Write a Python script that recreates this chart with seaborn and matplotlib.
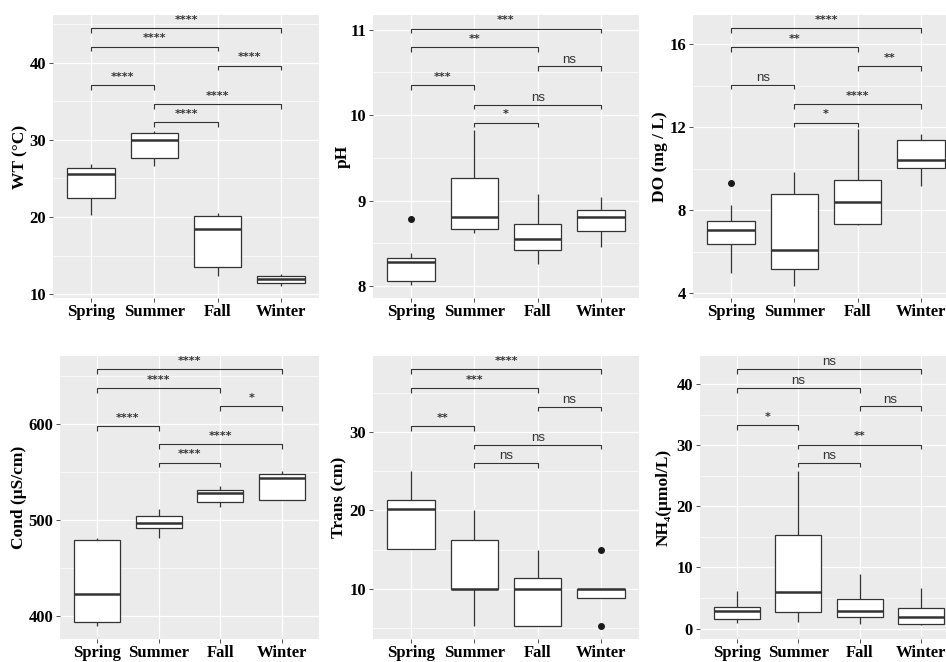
import matplotlib
matplotlib.use("Agg")
import matplotlib.pyplot as plt
from matplotlib.ticker import MultipleLocator
import seaborn as sns
import pandas as pd

seasons = ["Spring", "Summer", "Fall", "Winter"]

# per-season samples (whisker ends, quartiles, median, outliers)
wt_values = [[20.2, 22.5, 25.6, 26.4, 26.9],
             [26.6, 27.6, 30.0, 30.9, 31.2],
             [12.4, 13.5, 18.4, 20.1, 20.5],
             [11.1, 11.4, 11.9, 12.3, 12.6]]
ph_values = [[8.01, 8.04, 8.062, 8.2, 8.277, 8.3, 8.323, 8.39, 8.78],
             [8.62, 8.666, 8.81, 9.258, 9.823],
             [8.257, 8.42, 8.545, 8.72, 9.075],
             [8.46, 8.647, 8.81, 8.892, 9.044]]
do_values = [[4.97, 6.0, 6.35, 6.8, 7.06, 7.3, 7.48, 8.24, 9.3],
             [4.34, 5.16, 6.06, 8.8, 9.82],
             [7.3, 7.32, 8.41, 9.44, 11.9],
             [9.15, 10.01, 10.41, 11.38, 11.67]]
cond_values = [[389.6, 393.7, 423.3, 479.0, 481.0],
               [481.7, 492.2, 497.4, 503.7, 512.0],
               [513.7, 518.6, 527.7, 531.5, 535.7],
               [521.4, 521.4, 543.7, 548.5, 551.3]]
trans_values = [[15.02, 15.02, 20.13, 21.28, 25.0],
                [5.23, 10.0, 10.0, 16.26, 20.0],
                [5.2, 5.2, 10.0, 11.36, 15.0],
                [5.2, 8.77, 8.77, 9.5, 10.0, 10.0, 10.0, 10.0, 15.0]]
nh4_values = [[0.98, 1.53, 2.89, 3.6, 6.17],
              [1.15, 2.78, 6.06, 15.28, 25.8],
              [0.71, 1.91, 2.89, 4.8, 8.9],
              [0.6, 0.71, 1.91, 3.44, 6.71]]

# comparison brackets: season index pairs, bracket heights, significance labels
pairs = [(0, 1), (1, 2), (1, 3), (0, 2), (2, 3), (0, 3)]
wt_brackets = [37.1, 32.3, 34.6, 42.1, 39.65, 44.5]
wt_labels = ["****", "****", "****", "****", "****", "****"]
ph_brackets = [10.35, 9.91, 10.12, 10.79, 10.57, 11.01]
ph_labels = ["***", "*", "ns", "**", "ns", "***"]
do_brackets = [14.04, 12.22, 13.10, 15.86, 14.95, 16.76]
do_labels = ["ns", "*", "****", "**", "**", "****"]
cond_brackets = [597.9, 559.7, 578.8, 637.6, 618.4, 657.4]
cond_labels = ["****", "****", "****", "****", "*", "****"]
trans_brackets = [30.77, 26.04, 28.38, 35.57, 33.23, 38.0]
trans_labels = ["**", "ns", "ns", "***", "ns", "****"]
nh4_brackets = [33.23, 27.12, 30.12, 39.35, 36.34, 42.46]
nh4_labels = ["*", "ns", "**", "ns", "ns", "ns"]

sns.set_style("darkgrid", {"axes.facecolor": "#EBEBEB", "grid.color": "white"})
plt.rcParams["font.family"] = ["Liberation Serif", "DejaVu Serif"]

edge = "#333333"
fig = plt.figure(figsize=(9.46, 6.62), dpi=100)

W, H = 946, 662
panels = [
    # values, brackets, labels, ylabel, ylim, major, minor, [left, top, width] px, label x
    (wt_values, wt_brackets, wt_labels, "WT (°C)", (9.5, 46.2), 10, 5, (53, 15, 266), -0.094),
    (ph_values, ph_brackets, ph_labels, "pH", (7.86, 11.17), 1, 0.5, (373, 15, 266), -0.082),
    (do_values, do_brackets, do_labels, "DO (mg / L)", (3.76, 17.41), 4, 2, (693, 15, 266), -0.094),
    (cond_values, cond_brackets, cond_labels, "Cond (μS/cm)", (376, 671), 100, 50, (60, 356, 259), -0.127),
    (trans_values, trans_brackets, trans_labels, "Trans (cm)", (3.6, 39.7), 10, 5, (373, 356, 266), -0.097),
    (nh4_values, nh4_brackets, nh4_labels, "NH₄(μmol/L)", (-1.7, 44.6), 10, 5, (700, 356, 258), -0.108),
]

for values, brackets, labels, ylabel, ylim, major, minor, (lx, ty, wd), labx in panels:
    ax = fig.add_axes([lx / W, 1 - (ty + 283) / H, wd / W, 283 / H])
    rows = [(s, v) for s, vals in zip(seasons, values) for v in vals]
    df = pd.DataFrame(rows, columns=["season", "value"])
    sns.boxplot(ax=ax, data=df, x="season", y="value", order=seasons,
                color="white", saturation=1, linecolor=edge, linewidth=0.9,
                width=0.75, whis=1.5, showcaps=False,
                medianprops=dict(linewidth=1.8, color=edge),
                flierprops=dict(marker="o", markersize=4, markerfacecolor="#1a1a1a",
                                markeredgecolor="#1a1a1a"))
    ax.set_xlim(-0.6, 3.6)
    ax.set_ylim(*ylim)
    ax.yaxis.set_major_locator(MultipleLocator(major))
    ax.yaxis.set_minor_locator(MultipleLocator(minor))
    ax.grid(which="major", color="white", linewidth=0.9)
    ax.grid(which="minor", color="white", linewidth=0.5)
    ax.set_axisbelow(True)
    for sp in ax.spines.values():
        sp.set_visible(False)
    ax.tick_params(axis="both", which="major", length=3, width=0.6, color=edge,
                   left=True, bottom=True)
    ax.tick_params(axis="y", which="minor", length=0)
    ax.tick_params(axis="x", labelsize=12, pad=1)
    ax.tick_params(axis="y", labelsize=12, pad=2)
    for t in ax.get_xticklabels() + ax.get_yticklabels():
        t.set_fontweight("bold")
        t.set_color("black")
    ax.set_xlabel("")
    ax.set_ylabel(ylabel, fontsize=12.5, fontweight="bold", color="black")
    ax.yaxis.set_label_coords(labx, 0.5)

    span = ylim[1] - ylim[0]
    tip = span * 0.016
    for (a, b), yb, lab in zip(pairs, brackets, labels):
        ax.plot([a, a, b, b], [yb - tip, yb, yb, yb - tip], color=edge, linewidth=0.8,
                solid_capstyle="butt", zorder=5)
        if lab == "ns":
            ax.annotate(lab, xy=((a + b) / 2, yb), xytext=(0, 0.5), textcoords="offset points",
                        ha="center", va="bottom", fontsize=9.5, family="Liberation Sans",
                        color=edge)
        else:
            ax.annotate(lab, xy=((a + b) / 2, yb), xytext=(0, 2.5), textcoords="offset points",
                        ha="center", va="bottom", fontsize=8, family="DejaVu Sans",
                        fontweight="bold", color=edge)

fig.savefig("out.png", dpi=100, facecolor="white")
